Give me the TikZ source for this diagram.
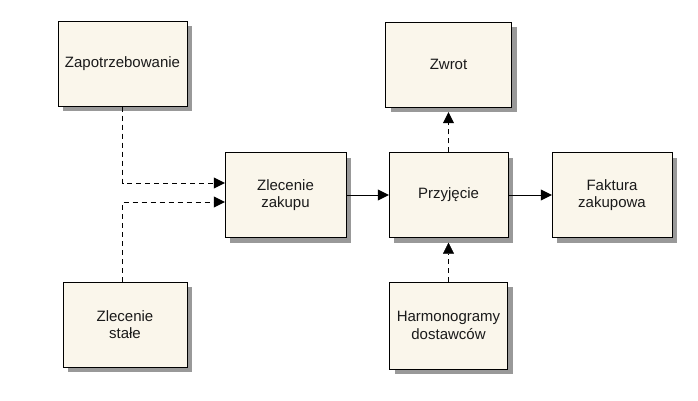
\documentclass[tikz,border=0pt]{standalone}
\usepackage{fontspec}
\setmainfont{Liberation Sans}
\usepackage{tikz}
\usetikzlibrary{arrows.meta, shadows}
\definecolor{boxfill}{HTML}{FAF6EB}
\definecolor{shadowgray}{HTML}{999999}
\definecolor{textgray}{HTML}{1A1A1A}

\begin{document}
\begin{tikzpicture}[x=1pt,y=-1pt,>={Triangle[length=11pt,width=11pt]}]
  \tikzstyle{box}=[draw, fill=boxfill, inner sep=0pt, minimum width=121pt,
    minimum height=85pt, align=center, text=textgray,
    font=\fontsize{15}{17.5}\selectfont,
    drop shadow={shadow xshift=5pt, shadow yshift=-5pt, fill=shadowgray, opacity=1}]
  \tikzstyle{dep}=[->, dashed, dash pattern=on 5pt off 4pt]
  \useasboundingbox (0,0) rectangle (698,401);
  \node[box, minimum width=129pt] (Zap) at (122.5,64)  {Zapotrzebowanie};
  \node[box, minimum width=124pt] (ZS)  at (125,324.5) {Zlecenie\\stałe};
  \node[box] (ZZ) at (285.5,195) {Zlecenie\\zakupu};
  \node[box, minimum width=119pt] (P)  at (448.5,195) {Przyjęcie};
  \node[box, minimum width=126pt] (Zw) at (448.5,64.5) {Zwrot};
  \node[box, minimum width=120pt] (F)  at (612,195) {Faktura\\zakupowa};
  \node[box, minimum width=118pt, minimum height=87pt] (H) at (448.5,325.5) {Harmonogramy\\dostawców};
  \draw[dep] (Zap.south) |- ([yshift=12pt]ZZ.west);
  \draw[dep] (Zap.south |- ZS.north) |- ([yshift=-7pt]ZZ.west);
  \draw[->] (ZZ) -- (P);
  \draw[->] (P) -- (F);
  \draw[dep] (P.north) -- ([yshift=-5pt]Zw.south);
  \draw[dep] (H.north) -- ([yshift=-5pt]P.south);
\end{tikzpicture}
\end{document}
